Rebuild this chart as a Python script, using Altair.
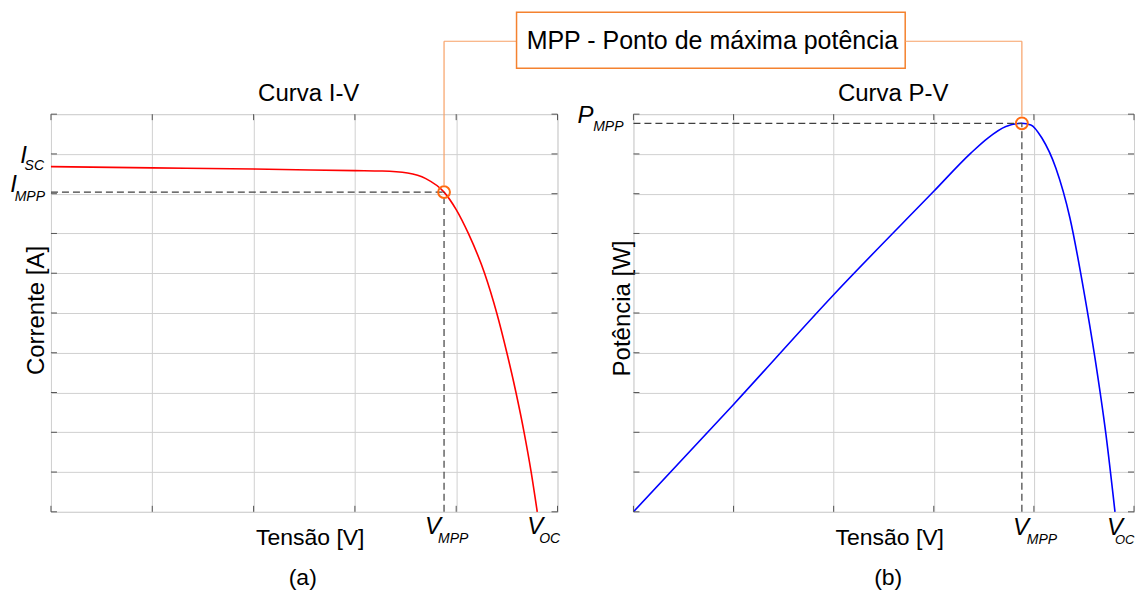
import altair as alt
import pandas as pd

# ---------------- data (normalised grid units) ----------------
# I-V curve: x in 0..5 grid divisions, y in 0..10 grid divisions
iv_v = [0.0, 1.0, 2.0, 3.0, 3.27, 3.52, 3.70, 3.88, 4.00, 4.12, 4.28, 4.40, 4.50, 4.59, 4.67, 4.74, 4.80]
iv_i = [8.68, 8.65, 8.62, 8.58, 8.57, 8.52, 8.38, 8.04, 7.60, 7.00, 6.00, 5.00, 4.00, 3.00, 2.00, 1.00, 0.00]

# P-V curve
pv_v = [0.0, 1.0, 2.0, 3.0, 3.37, 3.54, 3.72, 3.88, 3.97, 4.08, 4.22, 4.36, 4.50, 4.61, 4.72, 4.81]
pv_p = [0.0, 2.70, 5.46, 8.06, 9.02, 9.40, 9.69, 9.77, 9.73, 9.40, 8.64, 7.39, 5.54, 3.87, 1.94, 0.0]

v_mpp = 3.88
v_oc_iv = 4.80
v_oc_pv = 4.81
i_sc_tick = 9.0
i_mpp = 8.04
p_mpp = 9.77

x_ticks = [0, 1, 2, 3, 4, 5]
y_ticks = [0, 1, 2, 3, 4, 5, 6, 7, 8, 9, 10]

box_text = "MPP - Ponto de máxima potência"
title_iv = "Curva I-V"
title_pv = "Curva P-V"
xlabel = "Tensão [V]"
ylabel_iv = "Corrente [A]"
ylabel_pv = "Potência [W]"

# ---------------- style ----------------
FONT = "Liberation Sans"
W_L, W_R, H = 507, 501, 398
GRID = "#d0d0d0"
FRAME = "#555555"
TICK = "#555555"
DASH = "#404040"
OR_BOX = "#f4822f"
OR_LINE = "#f7a166"
OR_RING = "#ff6a10"


def make_axes(title_x, ytitle, ytitle_x, title_y):
    xa = alt.Axis(values=x_ticks, grid=True, gridColor=GRID, gridWidth=1,
                  labels=False, ticks=False, domain=False,
                  title=xlabel, titleFont=FONT, titleFontSize=23,
                  titleFontWeight="normal", titleColor="#000000",
                  titleBaseline="alphabetic", titleAlign="center",
                  titleX=title_x, titleY=33)
    ya = alt.Axis(values=y_ticks, grid=True, gridColor=GRID, gridWidth=1,
                  labels=False, ticks=False, domain=False,
                  title=ytitle, titleFont=FONT, titleFontSize=24,
                  titleFontWeight="normal", titleColor="#000000",
                  titleAngle=270, titleBaseline="alphabetic", titleAlign="center",
                  titleX=ytitle_x, titleY=title_y)
    return xa, ya


def build_panel(width, xa, ya, curve_df, ycol, color, ympp, labels_cfg,
                box_edge_x, cap_text, cap_x, title, title_x, extra=None):
    def xs(field):
        return alt.X(field, type="quantitative",
                     scale=alt.Scale(domain=[0, 5], nice=False, zero=False), axis=xa)

    def ys(field):
        return alt.Y(field, type="quantitative",
                     scale=alt.Scale(domain=[0, 10], nice=False, zero=False), axis=ya)

    layers = []
    # curve (first so axes/grid come from it)
    layers.append(alt.Chart(curve_df).mark_line(color=color, strokeWidth=1.6,
                                                interpolate="monotone").encode(
        x=xs("v"), y=ys(ycol)))

    # inner ticks on the frame
    ytick_df = pd.DataFrame({"t": y_ticks})
    xtick_df = pd.DataFrame({"t": x_ticks})
    layers.append(alt.Chart(ytick_df).mark_rule(color=TICK, strokeWidth=1).encode(
        y=ys("t"), x=alt.value(0), x2=alt.value(6)))
    layers.append(alt.Chart(ytick_df).mark_rule(color=TICK, strokeWidth=1).encode(
        y=ys("t"), x=alt.value(width), x2=alt.value(width - 6)))
    layers.append(alt.Chart(xtick_df).mark_rule(color=TICK, strokeWidth=1).encode(
        x=xs("t"), y=alt.value(H), y2=alt.value(H - 6)))
    layers.append(alt.Chart(xtick_df).mark_rule(color=TICK, strokeWidth=1).encode(
        x=xs("t"), y=alt.value(0), y2=alt.value(6)))

    # dashed guides to MPP
    layers.append(alt.Chart(pd.DataFrame({"x0": [0.0], "x1": [v_mpp], "y": [ympp]})).mark_rule(
        color=DASH, strokeWidth=1.2, strokeDash=[7, 4]).encode(
        x=xs("x0"), x2="x1:Q", y=ys("y")))
    layers.append(alt.Chart(pd.DataFrame({"x": [v_mpp], "y0": [0.0], "y1": [ympp]})).mark_rule(
        color=DASH, strokeWidth=1.2, strokeDash=[7, 4]).encode(
        x=xs("x"), y=ys("y0"), y2="y1:Q"))

    # connector to the MPP box and ring
    mdf = pd.DataFrame({"x": [v_mpp], "y": [ympp]})
    layers.append(alt.Chart(mdf).mark_rule(color=OR_LINE, strokeWidth=1.2, yOffset=-7).encode(
        x=xs("x"), y=ys("y"), y2=alt.value(-73)))
    layers.append(alt.Chart(mdf).mark_rule(color=OR_LINE, strokeWidth=1.2).encode(
        x=xs("x"), x2=alt.value(box_edge_x), y=alt.value(-73)))
    layers.append(alt.Chart(mdf).mark_point(shape="circle", filled=False, size=140,
                                            strokeWidth=2, color=OR_RING, opacity=1).encode(
        x=xs("x"), y=ys("y")))

    # italic symbol labels with subscripts
    for (xv, yv, text, dx, dy, size, align) in labels_cfg:
        df = pd.DataFrame({"x": [xv], "y": [yv], "t": [text]})
        layers.append(alt.Chart(df).mark_text(font=FONT, fontSize=size, fontStyle="italic",
                                              align=align, baseline="alphabetic",
                                              dx=dx, dy=dy, color="#000000").encode(
            x=xs("x"), y=ys("y"), text="t:N"))

    # panel title and caption
    tdf = pd.DataFrame({"t": [title]})
    layers.append(alt.Chart(tdf).mark_text(font=FONT, fontSize=24, align="center",
                                           baseline="alphabetic", color="#000000").encode(
        x=alt.value(title_x), y=alt.value(-13), text="t:N"))
    cdf = pd.DataFrame({"t": [cap_text]})
    layers.append(alt.Chart(cdf).mark_text(font=FONT, fontSize=23, align="center",
                                           baseline="alphabetic", color="#000000").encode(
        x=alt.value(cap_x), y=alt.value(471), text="t:N"))

    if extra:
        layers.extend(extra)
    return alt.layer(*layers).properties(width=width, height=H)


# ---------------- annotation box (drawn with the left panel) ----------------
box_df = pd.DataFrame({"t": [box_text]})
box_rect = alt.Chart(box_df).mark_rect(fill="white", stroke=OR_BOX, strokeWidth=1.5).encode(
    x=alt.value(466), x2=alt.value(855), y=alt.value(-102), y2=alt.value(-46))
box_label = alt.Chart(box_df).mark_text(font=FONT, fontSize=25, align="center",
                                        baseline="alphabetic", color="#000000").encode(
    x=alt.value(662), y=alt.value(-65.5), text="t:N")

# ---------------- left panel: I-V ----------------
xa_l, ya_l = make_axes(259, ylabel_iv, -7, 196)
iv_df = pd.DataFrame({"v": iv_v, "i": iv_i})
left_labels = [
    (0, i_sc_tick, "I", -24, 9, 24, "right"),
    (0, i_sc_tick, "SC", -7, 16.5, 14, "right"),
    (0, i_mpp, "I", -34, 0, 24, "right"),
    (0, i_mpp, "MPP", -6, 8.5, 14, "right"),
    (v_mpp, 0, "V", -19, 22, 24, "left"),
    (v_mpp, 0, "MPP", -6, 31, 14, "left"),
    (v_oc_iv, 0, "V", -10, 22, 24, "left"),
    (v_oc_iv, 0, "OC", 2, 31, 14, "left"),
]
left = build_panel(W_L, xa_l, ya_l, iv_df, "i", "#ff0000", i_mpp, left_labels,
                   466, "(a)", 252, title_iv, 258, extra=[box_rect, box_label])

# ---------------- right panel: P-V ----------------
xa_r, ya_r = make_axes(256, ylabel_pv, -4, 194)
pv_df = pd.DataFrame({"v": pv_v, "p": pv_p})
right_labels = [
    (0, p_mpp, "P", -40, 0, 24, "right"),
    (0, p_mpp, "MPP", -10, 8, 14, "right"),
    (v_mpp, 0, "V", -9, 23, 24, "left"),
    (v_mpp, 0, "MPP", 5, 32, 14, "left"),
    (v_oc_pv, 0, "V", -8, 23, 24, "left"),
    (v_oc_pv, 0, "OC", 0, 32, 13, "left"),
]
right = build_panel(W_R, xa_r, ya_r, pv_df, "p", "#0000ff", p_mpp, right_labels,
                    272, "(b)", 255, title_pv, 260)

chart = alt.hconcat(left, right, spacing=76, bounds="flush").properties(
    padding={"left": 1, "top": 2, "right": 0, "bottom": 0}
).configure_view(stroke=FRAME, strokeWidth=1).configure(font=FONT, background="white")

chart.save("out.html", embed_options={"renderer": "svg", "actions": False})
